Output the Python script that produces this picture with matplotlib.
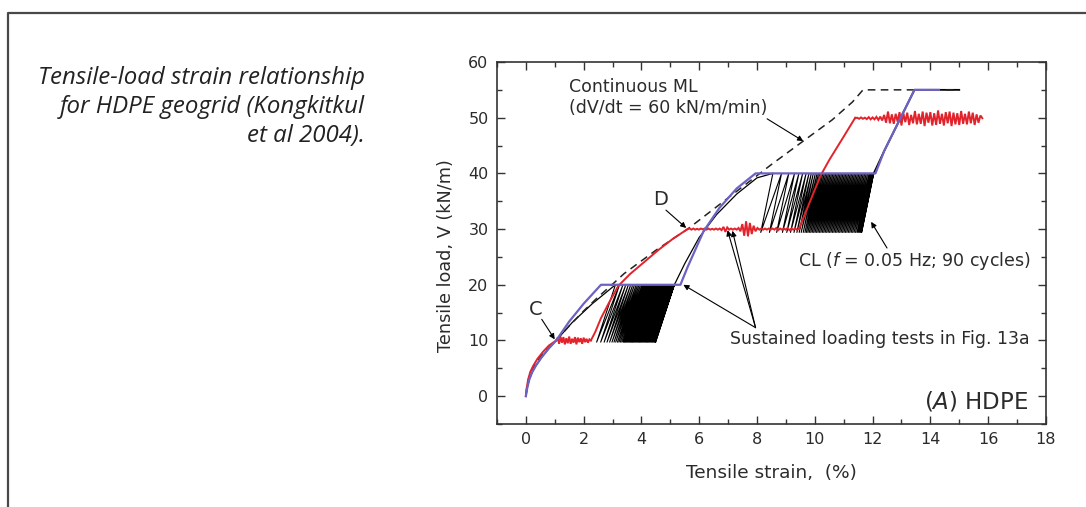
import numpy as np
import matplotlib.pyplot as plt
from matplotlib.lines import Line2D
from matplotlib.ticker import MultipleLocator

# Continuous monotonic loading, dV/dt = 60 kN/m/min (dashed)
ml_strain = [0, 0.03, 0.1, 0.2, 0.35, 0.55, 0.8, 1.05, 1.5, 2.0, 2.5, 3.0, 3.4,
             4.5, 5.6, 6.5, 7.5, 8.5, 9.6, 10.6, 11.3, 11.67, 15.0]
ml_load = [0, 1.5, 3.2, 4.6, 6.0, 7.4, 8.8, 10.0, 12.6, 15.3, 17.8, 20.1, 22.0,
           26.2, 30.0, 33.6, 37.6, 41.6, 45.8, 49.6, 52.8, 55.0, 55.0]

# Sustained loading test (red): loading branches and the creep plateaus
red_strain_a = [0, 0.03, 0.08, 0.15, 0.25, 0.4, 0.6, 0.8, 1.05]
red_load_a = [0, 1.5, 3.0, 4.3, 5.4, 6.7, 8.0, 9.1, 10.0]
red_strain_b = [2.25, 2.4, 2.6, 2.9, 3.2, 3.6, 4.1, 4.6, 5.1, 5.6]
red_load_b = [10.0, 11.5, 14.0, 17.0, 19.8, 21.9, 24.1, 26.3, 28.3, 30.0]
red_strain_c = [9.45, 9.8, 10.2, 10.5, 11.0, 11.4]
red_load_c = [30.0, 34.5, 39.6, 42.4, 46.6, 50.0]

plateau10_span = (1.05, 2.25)
plateau10_dev = [0.0, 0.5, -0.6, 0.7, -0.4, 0.6, -0.7, 0.4, -0.5, 0.7, -0.6, 0.3,
                 -0.4, 0.6, -0.7, 0.5, -0.3, 0.4, -0.6, 0.5, -0.3, 0.3, -0.4, 0.2, 0.0]
plateau30_span = (5.6, 9.45)
plateau30_dev = [0, 0.1, -0.1, 0.1, -0.1, 0.05, -0.1, 0.1, -0.05, 0.1, -0.1, 0.1,
                 -0.1, 0.05, -0.1, 0.1, -0.1, 0.1, -0.2, 0.4, -0.5, 0.3, -0.1, 0.1,
                 -0.1, 0.1, -0.1, 0.2, -0.4, 0.9, -1.2, 1.4, -1.3, 1.1, -0.9, 0.6,
                 -0.4, 0.2, -0.1, 0.1, -0.1, 0.1, -0.1, 0.1, -0.1, 0.1, -0.1, 0.2,
                 -0.2, 0.1, -0.1, 0.1, -0.1, 0.2, -0.2, 0.1, -0.1, 0.1, -0.1, 0]
plateau50_span = (11.4, 15.8)
plateau50_dev = [0, 0.1, -0.1, 0.15, -0.1, 0.1, -0.15, 0.2, -0.2, 0.15, -0.2, 0.25,
                 -0.3, 0.3, -0.4, 0.6, -0.8, 1.2, -0.9, 0.7, -1.0, 0.8, -0.6, 1.1,
                 -1.3, 0.9, -0.7, 1.0, -1.2, 0.6, -0.9, 1.3, -1.1, 0.8, -1.0, 1.2,
                 -1.4, 1.0, -0.8, 1.1, -1.3, 0.9, -1.2, 1.4, -1.0, 0.8, -1.3, 1.1,
                 -0.9, 1.2, -1.4, 1.0, -1.1, 0.9, -1.2, 1.3, -1.0, 0.8, -1.1, 1.2,
                 -0.9, 1.0, -1.2, 0.7, -0.8, 0.5, 0]

# Sustained loading test (blue)
blue_strain = [0, 0.05, 0.12, 0.22, 0.35, 0.55, 0.8, 1.05, 1.5, 2.0, 2.6, 5.35,
               5.6, 6.15, 6.7, 7.3, 7.95, 12.1, 12.4, 13.45, 14.3]
blue_load = [0, 1.5, 3.0, 4.3, 5.5, 7.0, 8.6, 10.0, 13.4, 16.6, 20.0, 20.0,
             23.2, 29.6, 33.8, 37.3, 40.0, 40.0, 44.0, 55.0, 55.0]

# Cyclic loading test, f = 0.05 Hz, 90 cycles (black)
cl_strain_a = [0, 0.05, 0.12, 0.22, 0.35, 0.55, 0.8, 1.05, 1.6, 2.3, 3.10]
cl_load_a = [0, 1.5, 3.0, 4.3, 5.5, 7.0, 8.6, 10.0, 13.2, 16.6, 20.0]
cl_strain_b = [5.14, 5.5, 6.0, 6.6, 7.3, 8.0, 8.55]
cl_load_b = [20.0, 23.8, 28.5, 32.6, 36.3, 39.2, 40.0]
cl_strain_c = [12.04, 12.4, 13.45, 15.0]
cl_load_c = [40.0, 44.0, 55.0, 55.0]

cycles1_peak = [3.10, 3.24, 3.36, 3.46, 3.55, 3.63, 3.70, 3.76, 3.82, 3.87, 3.92,
                3.97, 4.02, 4.06, 4.10, 4.14, 4.18, 4.22, 4.26, 4.30, 4.34, 4.38,
                4.42, 4.46, 4.50, 4.54, 4.58, 4.62, 4.66, 4.70, 4.74, 4.78, 4.82,
                4.86, 4.90, 4.94, 4.98, 5.02, 5.06, 5.10, 5.14]
cycles1_levels = (9.7, 20.0)
cycles1_unload = 0.65
cycles2_peak = [8.55, 8.85, 9.10, 9.30, 9.45, 9.58, 9.70, 9.80, 9.88, 9.95,
                10.02, 10.08, 10.13, 10.18, 10.23, 10.28, 10.33, 10.38, 10.43,
                10.48, 10.53, 10.58, 10.63, 10.68, 10.73, 10.78, 10.83, 10.88,
                10.93, 10.98, 11.03, 11.08, 11.13, 11.18, 11.23, 11.28, 11.33,
                11.38, 11.43, 11.48, 11.53, 11.58, 11.63, 11.68, 11.73, 11.78,
                11.83, 11.88, 11.92, 11.96, 12.00, 12.04]
cycles2_levels = (29.4, 40.0)
cycles2_unload = 0.42

RED = '#e3232b'
BLUE = '#6c62c2'
TXT = '#2b2b2b'


def plateau(span, dev, level):
    x = np.linspace(span[0], span[1], len(dev))
    return x, level + np.asarray(dev)


def cycle_path(peaks, levels, unload):
    lo, hi = levels
    xs, ys = [], []
    for p in peaks:
        xs += [p, p - unload]
        ys += [hi, lo]
    xs.append(peaks[-1])
    ys.append(hi)
    return xs, ys


fig = plt.figure(figsize=(10.86, 5.07), dpi=100)
ax = fig.add_axes([0.4576, 0.1637, 0.5055, 0.714])

# black cyclic test first so the other curves sit on top
ax.plot(cl_strain_a, cl_load_a, color='black', lw=0.9, zorder=1)
ax.plot(*cycle_path(cycles1_peak, cycles1_levels, cycles1_unload),
        color='black', lw=0.8, zorder=1)
ax.plot(cl_strain_b, cl_load_b, color='black', lw=0.9, zorder=1)
ax.plot(*cycle_path(cycles2_peak, cycles2_levels, cycles2_unload),
        color='black', lw=0.8, zorder=1)
ax.plot(cl_strain_c, cl_load_c, color='black', lw=1.3, zorder=1)

ax.plot(ml_strain, ml_load, color='#222222', lw=1.1, ls=(0, (5, 3.5)), zorder=2)

for xs, ys in [(red_strain_a, red_load_a), plateau(plateau10_span, plateau10_dev, 10.0),
               (red_strain_b, red_load_b), plateau(plateau30_span, plateau30_dev, 30.0),
               (red_strain_c, red_load_c), plateau(plateau50_span, plateau50_dev, 49.9)]:
    ax.plot(xs, ys, color=RED, lw=1.4, zorder=3, solid_joinstyle='miter')

ax.plot(blue_strain, blue_load, color=BLUE, lw=1.6, zorder=4)

ax.set_xlim(-1, 18)
ax.set_ylim(-5, 60)
ax.xaxis.set_major_locator(MultipleLocator(2))
ax.xaxis.set_minor_locator(MultipleLocator(1))
ax.yaxis.set_major_locator(MultipleLocator(10))
ax.yaxis.set_minor_locator(MultipleLocator(5))
ax.tick_params(which='both', direction='in', top=True, right=True,
               colors='#333333', width=1.0)
ax.tick_params(which='major', length=6, labelsize=11.5, pad=6, labelcolor=TXT)
ax.tick_params(which='minor', length=3.5)
for s in ax.spines.values():
    s.set_linewidth(1.2)
    s.set_color('#333333')

ax.set_xlabel('Tensile strain,  (%)', fontsize=13.3, color=TXT, labelpad=12)
ax.set_ylabel('Tensile load, V (kN/m)', fontsize=12.7, color=TXT)
ax.yaxis.set_label_coords(-0.076, 0.464)

ax.text(1.5, 55.6, 'Continuous ML', fontsize=12.5, color=TXT, va='center')
ax.text(1.5, 51.8, '(dV/dt = 60 kN/m/min)', fontsize=12.5, color=TXT, va='center')
ax.text(4.65, 35.4, 'D', fontsize=14, color=TXT, ha='center', va='center')
ax.text(0.35, 15.5, 'C', fontsize=14, color=TXT, ha='center', va='center')
ax.text(17.45, 24.2, 'CL ($f$ = 0.05 Hz; 90 cycles)', fontsize=12.5, color=TXT,
        ha='right', va='center')
ax.text(17.45, 10.2, 'Sustained loading tests in Fig. 13a', fontsize=12.5,
        color=TXT, ha='right', va='center')
ax.text(17.4, -0.9, '($A$) HDPE', fontsize=16.5, color=TXT, ha='right',
        va='center')

arrow = dict(arrowstyle='-|>', color='black', lw=0.8, mutation_scale=8,
             shrinkA=0, shrinkB=0)
ax.annotate('', xy=(9.6, 45.8), xytext=(8.35, 49.8), arrowprops=arrow)
ax.annotate('', xy=(5.55, 30.2), xytext=(4.85, 33.4), arrowprops=arrow)
ax.annotate('', xy=(1.0, 10.2), xytext=(0.55, 13.8), arrowprops=arrow)
ax.annotate('', xy=(11.95, 31.3), xytext=(12.5, 26.6), arrowprops=arrow)
for tip in [(5.45, 20.0), (6.98, 29.8), (7.15, 29.7)]:
    ax.annotate('', xy=tip, xytext=(7.95, 12.3), arrowprops=arrow)

# caption beside the chart
caption = ['Tensile-load strain relationship', 'for HDPE geogrid (Kongkitkul',
           'et al 2004).']
for i, line in enumerate(caption):
    fig.text(365 / 1086, 1 - (84.3 + 28.7 * i) / 507, line, ha='right',
             va='baseline', fontsize=17.3, style='italic', family='Open Sans',
             color='#222222')

# frame around the figure
frame = Line2D([7.5 / 1086, 7.5 / 1086, 1.02], [-0.1, 1 - 12.5 / 507, 1 - 12.5 / 507],
               transform=fig.transFigure, color='#484848', lw=1.6)
fig.add_artist(frame)

fig.savefig('out.png', dpi=100)
